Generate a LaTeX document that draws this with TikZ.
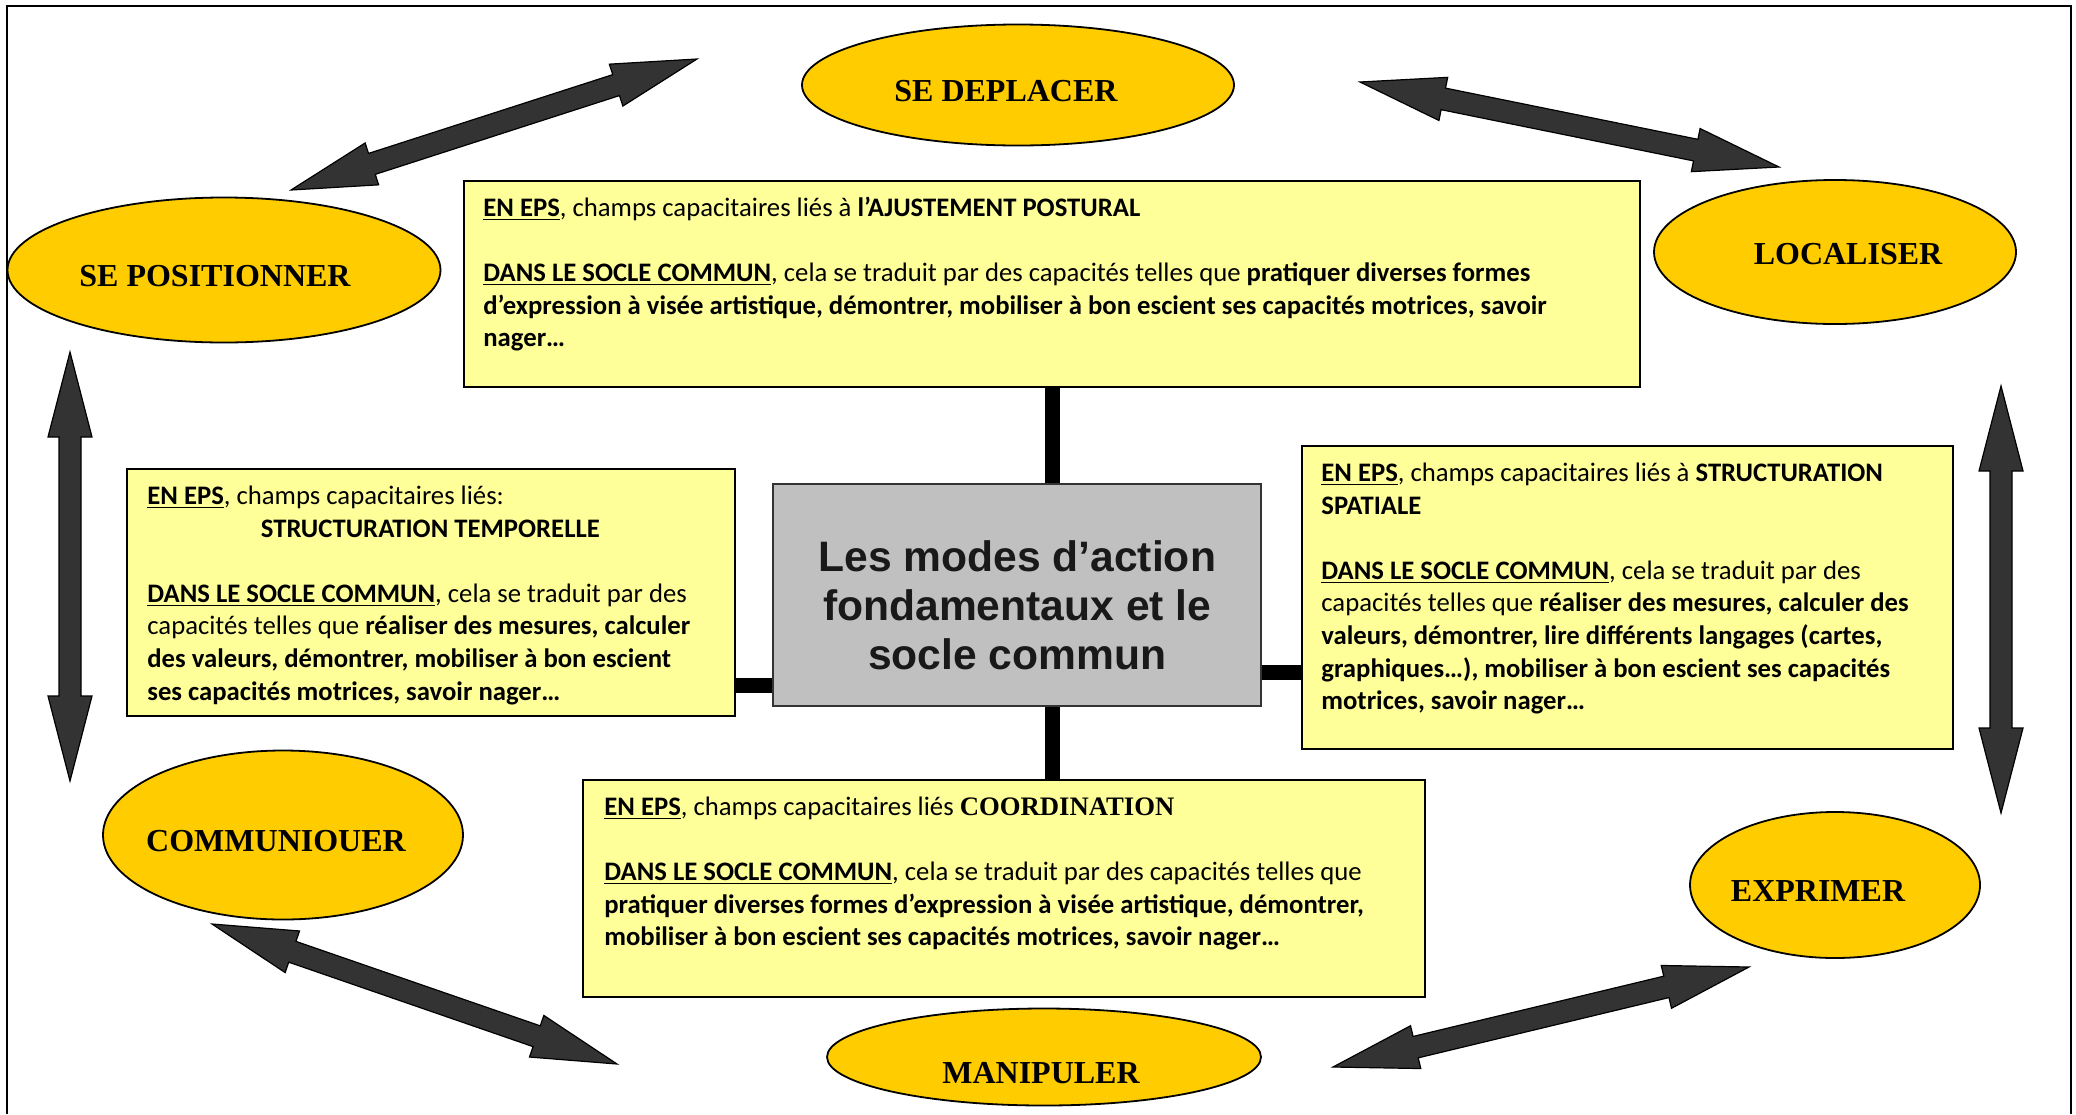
\documentclass[tikz,border=0pt]{standalone}
\usepackage{fontspec}
\setmainfont{Carlito}
\newfontfamily\ovalfont{Liberation Serif}
\newfontfamily\titrefont{Liberation Sans}
\usetikzlibrary{shapes.geometric,calc,positioning}

\definecolor{ovaljaune}{HTML}{FFCC00}
\definecolor{papier}{HTML}{FFFF99}
\definecolor{gris}{HTML}{C0C0C0}
\definecolor{flechegris}{HTML}{333333}
\newcommand{\souligne}[1]{\underline{\textbf{#1}}}

\begin{document}
\begin{tikzpicture}[x=0.5pt,y=-0.5pt,
  oval/.style={ellipse, draw, line width=0.9pt, fill=ovaljaune, inner sep=0pt,
    font=\ovalfont\bfseries\fontsize{16}{19}\selectfont, text height=16.5pt, text depth=0pt},
  boite/.style={rectangle, draw, line width=1.2pt, fill=papier, inner sep=0pt, anchor=north west},
  texte/.style={inner sep=0pt, align=left, font=\fontsize{13.35}{16.3}\selectfont},
  lien/.style={line width=7.5pt},
  fleche/.style={fill=flechegris, draw=black, line width=0.6pt, line join=miter}]
\useasboundingbox (0,0) rectangle (2076,1114);
\draw[line width=1pt] (7,1114) -- (7,6) -- (2071,6) -- (2071,1114);

\node[oval, minimum width=216pt, minimum height=60.5pt] (deplacer) at (1018,85) {\makebox[0pt]{\hspace*{-12pt}SE DEPLACER}};
\node[oval, minimum width=216.5pt, minimum height=72.5pt] (positionner) at (224,270) {\makebox[0pt]{\hspace*{-9pt}SE POSITIONNER}};
\node[oval, minimum width=181pt, minimum height=72pt, text height=12pt] (localiser) at (1835,252) {\makebox[0pt]{\hspace*{13pt}LOCALISER}};
\node[oval, minimum width=180pt, minimum height=84.5pt] (communiquer) at (283,835) {\makebox[0pt]{\hspace*{-7pt}COMMUNIOUER}};
\node[oval, minimum width=145pt, minimum height=73pt] (exprimer) at (1835,885) {\makebox[0pt]{\hspace*{-17pt}EXPRIMER}};
\node[oval, minimum width=217pt, minimum height=48.5pt, text height=26.5pt] (manipuler) at (1044,1057) {\makebox[0pt]{\hspace*{-3pt}MANIPULER}};

\node[boite, minimum width=588pt, minimum height=103pt] (posture) at (463,180) {};
\node[boite, minimum width=304pt, minimum height=123.5pt] (tempo) at (126,468) {};
\node[boite, minimum width=325.5pt, minimum height=151.5pt] (espace) at (1301,445) {};
\node[boite, minimum width=421pt, minimum height=108.5pt] (coord) at (582,779) {};
\node[boite, minimum width=244pt, minimum height=111pt, fill=gris, draw=black!80] (centre) at (772,483) {};

\draw[lien] (posture.south) -- (posture.south |- centre.north);
\draw[lien] (posture.south |- centre.south) -- (posture.south |- coord.north);
\draw[lien] ([yshift=11pt]centre.south west) -- ([yshift=11pt]centre.south west -| tempo.east);
\draw[lien] ([yshift=17.5pt]centre.south east) -- ([yshift=17.5pt]centre.south east -| espace.west);

\node[font=\titrefont\bfseries\fontsize{21.3}{24.5}\selectfont, text=black!90, align=center, inner sep=0pt] (titre)
  at ([yshift=-5pt]centre.center) {Les modes d’action\\fondamentaux et le\\socle commun};

\node[texte, below right=6.6pt and 10pt of posture.north west] (posture-txt) {\strut\souligne{EN EPS}, champs capacitaires liés à \textbf{l’AJUSTEMENT POSTURAL}\\
\strut\\
\souligne{DANS LE SOCLE COMMUN}, cela se traduit par des capacités telles que \textbf{pratiquer diverses formes}\\
\textbf{d’expression à visée artistique, démontrer, mobiliser à bon escient ses capacités motrices, savoir}\\
\textbf{nager…}};
\node[texte, below right=6.6pt and 10.5pt of tempo.north west] (tempo-txt) {\strut\souligne{EN EPS}, champs capacitaires liés:\\
\makebox[283pt][c]{\textbf{STRUCTURATION TEMPORELLE}}\\
\strut\\
\souligne{DANS LE SOCLE COMMUN}, cela se traduit par des\\
capacités telles que \textbf{réaliser des mesures, calculer}\\
\textbf{des valeurs, démontrer, mobiliser à bon escient}\\
\textbf{ses capacités motrices, savoir nager…}};
\node[texte, below right=6.6pt and 10pt of espace.north west] (espace-txt) {\strut\souligne{EN EPS}, champs capacitaires liés à \textbf{STRUCTURATION}\\
\textbf{SPATIALE}\\
\strut\\
\souligne{DANS LE SOCLE COMMUN}, cela se traduit par des\\
capacités telles que \textbf{réaliser des mesures, calculer des}\\
\textbf{valeurs, démontrer, lire différents langages (cartes,}\\
\textbf{graphiques…), mobiliser à bon escient ses capacités}\\
\textbf{motrices, savoir nager…}};
\node[texte, below right=6.6pt and 11pt of coord.north west] (coord-txt) {\strut\souligne{EN EPS}, champs capacitaires liés {\ovalfont\bfseries COORDINATION}\\
\strut\\
\souligne{DANS LE SOCLE COMMUN}, cela se traduit par des capacités telles que\\
\textbf{pratiquer diverses formes d’expression à visée artistique, démontrer,}\\
\textbf{mobiliser à bon escient ses capacités motrices, savoir nager…}};

\coordinate (pos-nord) at (291,190);
\coordinate (dep-ouest) at (697,59);
\coordinate (dep-est) at (1360,82);
\coordinate (loc-nord) at (1779,167);
\coordinate (pos-sud) at (70,352);
\coordinate (com-nord) at (70,781);
\coordinate (loc-sud) at (2001,386);
\coordinate (exp-nord) at (2001,813);
\coordinate (com-sud) at (212,924);
\coordinate (man-ouest) at (617,1064);
\coordinate (man-est) at (1333,1067);
\coordinate (exp-sud) at (1749,967);

\foreach \a/\b in {pos-nord/dep-ouest, dep-est/loc-nord, pos-sud/com-nord, loc-sud/exp-nord, com-sud/man-ouest, man-est/exp-sud} {
  \coordinate (ta) at ($(\a)!42.5pt!(\b)$);
  \coordinate (tb) at ($(\b)!42.5pt!(\a)$);
  \filldraw[fleche] (\a) -- ($(ta)!11pt!90:(\a)$) -- ($(ta)!5.5pt!90:(\a)$) -- ($(tb)!5.5pt!-90:(\b)$) -- ($(tb)!11pt!-90:(\b)$) -- (\b)
    -- ($(tb)!11pt!90:(\b)$) -- ($(tb)!5.5pt!90:(\b)$) -- ($(ta)!5.5pt!-90:(\a)$) -- ($(ta)!11pt!-90:(\a)$) -- cycle;
}
\end{tikzpicture}
\end{document}
